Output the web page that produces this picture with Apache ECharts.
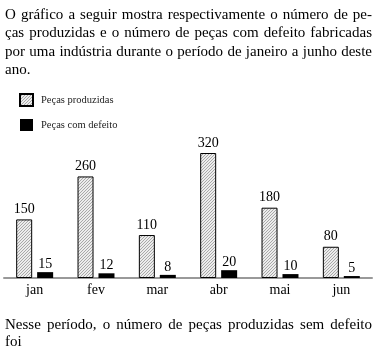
<!DOCTYPE html>
<html>
<head>
<meta charset="utf-8">
<script src="https://cdn.jsdelivr.net/npm/echarts@6/dist/echarts.min.js"></script>
<style>
html,body{margin:0;padding:0;background:#fff;}
#chart{width:378px;height:351px;}
</style>
</head>
<body>
<div id="chart"></div>
<script>
// ---- data ----
var months = ['jan', 'fev', 'mar', 'abr', 'mai', 'jun'];
var produced = [150, 260, 110, 320, 180, 80];
var defective = [15, 12, 8, 20, 10, 5];
var seriesNames = ['Peças produzidas', 'Peças com defeito'];
var introLines = [
  'O gráfico a seguir mostra respectivamente o número de pe-',
  'ças produzidas e o número de peças com defeito fabricadas',
  'por uma indústria durante o período de janeiro a junho deste',
  'ano.'
];
var questionLines = [
  'Nesse período, o número de peças produzidas sem defeito',
  'foi'
];

// ---- hatch pattern ----
function makeHatch() {
  var c = document.createElement('canvas');
  c.width = 3; c.height = 3;
  var g = c.getContext('2d');
  g.fillStyle = '#ececec';
  g.fillRect(0, 0, 3, 3);
  g.fillStyle = '#a8a8a8';
  g.fillRect(2, 0, 1, 1);
  g.fillRect(1, 1, 1, 1);
  g.fillRect(0, 2, 1, 1);
  return c;
}

// ---- justified text helper ----
var measureCtx = document.createElement('canvas').getContext('2d');
var FONT = '15px "Liberation Serif", "Times New Roman", serif';
function textLine(text, y, x0, x1, justify) {
  measureCtx.font = FONT;
  var words = text.split(' ');
  var widths = words.map(function (w) { return measureCtx.measureText(w).width; });
  var total = widths.reduce(function (a, b) { return a + b; }, 0);
  var spaceW = measureCtx.measureText(' ').width;
  var gap = (justify && words.length > 1) ? (x1 - x0 - total) / (words.length - 1) : spaceW;
  var x = x0, out = [];
  words.forEach(function (w, i) {
    out.push({
      type: 'text', x: x, y: y,
      style: { text: w, font: FONT, fill: '#000', verticalAlign: 'middle', textVerticalAlign: 'middle' }
    });
    x += widths[i] + gap;
  });
  return out;
}

var graphics = [];
var introY = [15, 33.5, 52, 70.5];
introLines.forEach(function (l, i) {
  graphics = graphics.concat(textLine(l, introY[i], 5, 372, i < introLines.length - 1));
});
var qY = [325, 342];
questionLines.forEach(function (l, i) {
  graphics = graphics.concat(textLine(l, qY[i], 5, 372, i < questionLines.length - 1));
});

var chart = echarts.init(document.getElementById('chart'), null, { renderer: 'canvas' });
var serif = '"Liberation Serif", "Times New Roman", serif';
chart.setOption({
  animation: false,
  backgroundColor: '#fff',
  graphic: graphics,
  legend: {
    orient: 'vertical',
    left: 19,
    top: 93,
    padding: 0,
    itemWidth: 13,
    itemHeight: 12,
    itemGap: 12,
    icon: 'rect',
    data: seriesNames,
    textStyle: { fontFamily: serif, fontSize: 10.5, color: '#222', padding: [0, 0, 0, 3] }
  },
  grid: { left: 4, right: 6, top: 153, bottom: 73, containLabel: false },
  xAxis: {
    type: 'category',
    data: months,
    axisLine: { show: true, lineStyle: { color: '#999', width: 2 } },
    axisTick: { show: false },
    axisLabel: { fontFamily: serif, fontSize: 14, color: '#000', margin: 5 }
  },
  yAxis: {
    type: 'value',
    min: 0, max: 320,
    show: false,
    splitLine: { show: false }
  },
  series: [
    {
      name: seriesNames[0],
      type: 'bar',
      data: produced,
      barWidth: 16,
      barGap: '31%',
      itemStyle: {
        color: { image: makeHatch(), repeat: 'repeat' },
        borderColor: '#000',
        borderWidth: 1
      },
      label: { show: true, position: 'top', distance: 3, fontFamily: serif, fontSize: 14, color: '#000' }
    },
    {
      name: seriesNames[1],
      type: 'bar',
      data: defective,
      barWidth: 16,
      itemStyle: { color: '#000' },
      label: { show: true, position: 'top', distance: 1, fontFamily: serif, fontSize: 14, color: '#000' }
    }
  ]
});
</script>
</body>
</html>
